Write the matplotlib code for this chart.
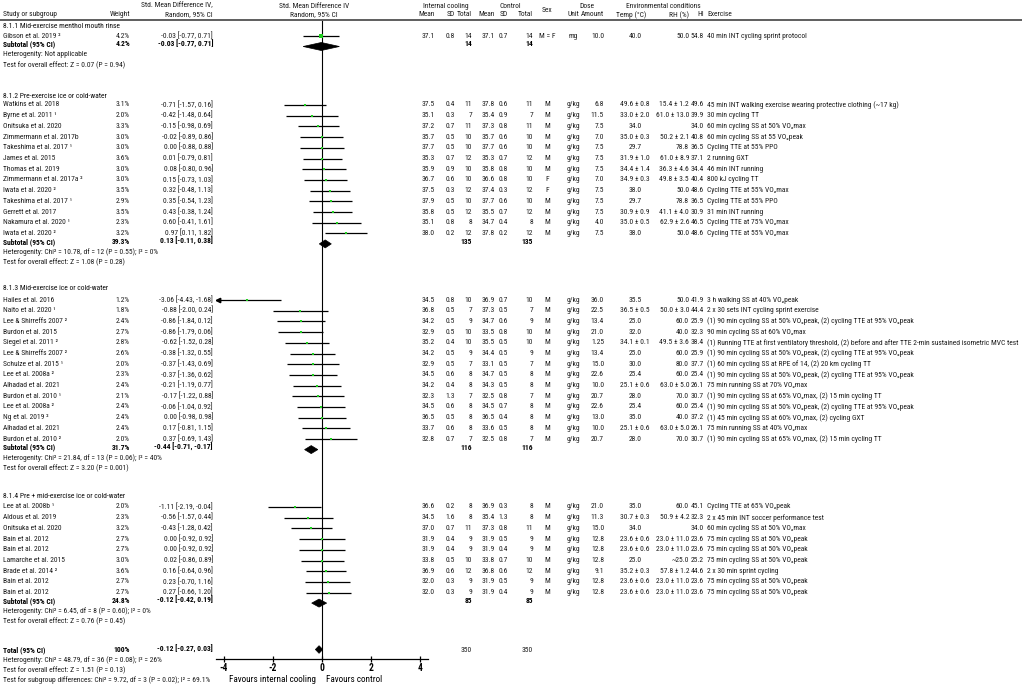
import matplotlib
matplotlib.use("Agg")
import matplotlib.pyplot as plt
from matplotlib import font_manager as fm
from matplotlib.patches import Polygon

plt.rcParams['axes.unicode_minus'] = False

# ---------------- DATA ----------------
group_titles = ["8.1.1 Mid-exercise menthol mouth rinse",
                "8.1.2 Pre-exercise ice or cold-water",
                "8.1.3 Mid-exercise ice or cold-water",
                "8.1.4 Pre + mid-exercise ice or cold-water"]

study_group = [0] + [1] * 13 + [2] * 14 + [3] * 9

study = ["Gibson et al. 2019 ²",
         "Watkins et al. 2018", "Byrne et al. 2011 ¹", "Onitsuka et al. 2020", "Zimmermann et al. 2017b",
         "Takeshima et al. 2017 ¹", "James et al. 2015", "Thomas et al. 2019", "Zimmermann et al. 2017a ²",
         "Iwata et al. 2020 ²", "Takeshima et al. 2017 ¹", "Gerrett et al. 2017", "Nakamura et al. 2020 ¹",
         "Iwata et al. 2020 ²",
         "Hailes et al. 2016", "Naito et al. 2020 ¹", "Lee & Shirreffs 2007 ²", "Burdon et al. 2015",
         "Siegel et al. 2011 ²", "Lee & Shirreffs 2007 ²", "Schulze et al. 2015 ¹", "Lee et al. 2008a ²",
         "Alhadad et al. 2021", "Burdon et al. 2010 ¹", "Lee et al. 2008a ²", "Ng et al. 2019 ²",
         "Alhadad et al. 2021", "Burdon et al. 2010 ²",
         "Lee at al. 2008b ¹", "Aldous et al. 2019", "Onitsuka et al. 2020", "Bain et al. 2012",
         "Bain et al. 2012", "Lamarche et al. 2015", "Brade et al. 2014 ²", "Bain et al. 2012",
         "Bain et al. 2012"]

weight = [4.2,
          3.1, 2.0, 3.3, 3.0, 3.0, 3.6, 3.0, 3.0, 3.5, 2.9, 3.5, 2.3, 3.2,
          1.2, 1.8, 2.4, 2.7, 2.8, 2.6, 2.0, 2.3, 2.4, 2.1, 2.4, 2.4, 2.4, 2.0,
          2.0, 2.3, 3.2, 2.7, 2.7, 3.0, 3.6, 2.7, 2.7]

smd = [-0.03,
       -0.71, -0.42, -0.15, -0.02, 0.00, 0.01, 0.08, 0.15, 0.32, 0.35, 0.43, 0.60, 0.97,
       -3.06, -0.88, -0.86, -0.86, -0.62, -0.38, -0.37, -0.37, -0.21, -0.17, -0.06, 0.00, 0.17, 0.37,
       -1.11, -0.56, -0.43, 0.00, 0.00, 0.02, 0.16, 0.23, 0.27]
ci_lo = [-0.77,
         -1.57, -1.48, -0.98, -0.89, -0.88, -0.79, -0.80, -0.73, -0.48, -0.54, -0.38, -0.41, 0.11,
         -4.43, -2.00, -1.84, -1.79, -1.52, -1.32, -1.43, -1.36, -1.19, -1.22, -1.04, -0.98, -0.81, -0.69,
         -2.19, -1.57, -1.28, -0.92, -0.92, -0.86, -0.64, -0.70, -0.66]
ci_hi = [0.71,
         0.16, 0.64, 0.69, 0.86, 0.88, 0.81, 0.96, 1.03, 1.13, 1.23, 1.24, 1.61, 1.82,
         -1.68, 0.24, 0.12, 0.06, 0.28, 0.55, 0.69, 0.62, 0.77, 0.88, 0.92, 0.98, 1.15, 1.43,
         -0.04, 0.44, 0.42, 0.92, 0.92, 0.89, 0.96, 1.16, 1.20]

int_mean = [37.1,
            37.5, 35.1, 37.2, 35.7, 37.7, 35.3, 35.9, 36.7, 37.5, 37.9, 35.8, 35.1, 38.0,
            34.5, 36.8, 34.2, 32.9, 35.2, 34.2, 32.9, 34.5, 34.2, 32.3, 34.5, 36.5, 33.7, 32.8,
            36.6, 34.5, 37.0, 31.9, 31.9, 33.8, 36.9, 32.0, 32.0]
int_sd = [0.8,
          0.4, 0.3, 0.7, 0.5, 0.5, 0.7, 0.9, 0.6, 0.3, 0.5, 0.5, 0.8, 0.2,
          0.8, 0.5, 0.5, 0.5, 0.4, 0.5, 0.5, 0.6, 0.4, 1.3, 0.6, 0.5, 0.6, 0.7,
          0.2, 1.6, 0.7, 0.4, 0.4, 0.5, 0.6, 0.3, 0.3]
int_n = [14,
         11, 7, 11, 10, 10, 12, 10, 10, 12, 10, 12, 8, 12,
         10, 7, 9, 10, 10, 9, 7, 8, 8, 7, 8, 8, 8, 7,
         8, 8, 11, 9, 9, 10, 12, 9, 9]
ctl_mean = [37.1,
            37.8, 35.4, 37.3, 35.7, 37.7, 35.3, 35.8, 36.6, 37.4, 37.7, 35.5, 34.7, 37.8,
            36.9, 37.3, 34.7, 33.5, 35.5, 34.4, 33.1, 34.7, 34.3, 32.5, 34.5, 36.5, 33.6, 32.5,
            36.9, 35.4, 37.3, 31.9, 31.9, 33.8, 36.8, 31.9, 31.9]
ctl_sd = [0.7,
          0.6, 0.9, 0.8, 0.6, 0.6, 0.7, 0.8, 0.8, 0.3, 0.6, 0.7, 0.4, 0.2,
          0.7, 0.5, 0.6, 0.8, 0.5, 0.5, 0.5, 0.5, 0.5, 0.8, 0.7, 0.4, 0.5, 0.8,
          0.3, 1.3, 0.8, 0.5, 0.4, 0.7, 0.6, 0.5, 0.4]
ctl_n = [14,
         11, 7, 11, 10, 10, 12, 10, 10, 12, 10, 12, 8, 12,
         10, 7, 9, 10, 10, 9, 7, 8, 8, 7, 8, 8, 8, 7,
         8, 8, 11, 9, 9, 10, 12, 9, 9]

sex = ["M = F"] + ["M"] * 7 + ["F", "F"] + ["M"] * 4 + ["M"] * 14 + ["M"] * 9
dose_unit = ["mg"] + ["g/kg"] * 36
dose_amount = ["10.0",
               "6.8", "11.5", "7.5", "7.0", "7.5", "7.5", "7.5", "7.0", "7.5", "7.5", "7.5", "4.0", "7.5",
               "36.0", "22.5", "13.4", "21.0", "1.25", "13.4", "15.0", "22.6", "10.0", "20.7", "22.6", "13.0",
               "10.0", "20.7",
               "21.0", "11.3", "15.0", "12.8", "12.8", "12.8", "9.1", "12.8", "12.8"]
temp = ["40.0",
        "49.6 ± 0.8", "33.0 ± 2.0", "34.0", "35.0 ± 0.3", "29.7", "31.9 ± 1.0", "34.4 ± 1.4", "34.9 ± 0.3",
        "38.0", "29.7", "30.9 ± 0.9", "35.0 ± 0.5", "38.0",
        "35.5", "36.5 ± 0.5", "25.0", "32.0", "34.1 ± 0.1", "25.0", "30.0", "25.4", "25.1 ± 0.6", "28.0",
        "25.4", "35.0", "25.1 ± 0.6", "28.0",
        "35.0", "30.7 ± 0.3", "34.0", "23.6 ± 0.6", "23.6 ± 0.6", "25.0", "35.2 ± 0.3", "23.6 ± 0.6",
        "23.6 ± 0.6"]
rh = ["50.0",
      "15.4 ± 1.2", "61.0 ± 13.0", "", "50.2 ± 2.1", "78.8", "61.0 ± 8.9", "36.3 ± 4.6", "49.8 ± 3.5",
      "50.0", "78.8", "41.1 ± 4.0", "62.9 ± 2.6", "50.0",
      "50.0", "50.0 ± 3.0", "60.0", "40.0", "49.5 ± 3.6", "60.0", "80.0", "60.0", "63.0 ± 5.0", "70.0",
      "60.0", "40.0", "63.0 ± 5.0", "70.0",
      "60.0", "50.9 ± 4.2", "", "23.0 ± 11.0", "23.0 ± 11.0", "~25.0", "57.8 ± 1.2", "23.0 ± 11.0",
      "23.0 ± 11.0"]
heat_index = [54.8,
              49.6, 39.9, 34.0, 40.8, 36.5, 37.1, 34.4, 40.4, 48.6, 36.5, 30.9, 46.5, 48.6,
              41.9, 44.4, 25.9, 32.3, 38.4, 25.9, 37.7, 25.4, 26.1, 30.7, 25.4, 37.2, 26.1, 30.7,
              45.1, 32.3, 34.0, 23.6, 23.6, 25.2, 44.6, 23.6, 23.6]
exercise = ["40 min INT cycling sprint protocol",
            "45 min INT walking exercise wearing protective clothing (~17 kg)",
            "30 min cycling TT",
            "60 min cycling SS at 50% VO₂max",
            "60 min cycling SS at 55 VO₂peak",
            "Cycling TTE at 55% PPO",
            "2 running GXT",
            "46 min INT running",
            "800 kJ cycling TT",
            "Cycling TTE at 55% VO₂max",
            "Cycling TTE at 55% PPO",
            "31 min INT running",
            "Cycling TTE at 75% VO₂max",
            "Cycling TTE at 55% VO₂max",
            "3 h walking SS at 40% VO₂peak",
            "2 x 30 sets INT cycling sprint exercise",
            "(1) 90 min cycling SS at 50% VO₂peak, (2) cycling TTE at 95% VO₂peak",
            "90 min cycling SS at 60% VO₂max",
            "(1) Running TTE at first ventilatory threshold, (2) before and after TTE 2-min sustained isometric MVC test",
            "(1) 90 min cycling SS at 50% VO₂peak, (2) cycling TTE at 95% VO₂peak",
            "(1) 60 min cycling SS at RPE of 14, (2) 20 km cycling TT",
            "(1) 90 min cycling SS at 50% VO₂peak, (2) cycling TTE at 95% VO₂peak",
            "75 min running SS at 70% VO₂max",
            "(1) 90 min cycling SS at 65% VO₂max, (2) 15 min cycling TT",
            "(1) 90 min cycling SS at 50% VO₂peak, (2) cycling TTE at 95% VO₂peak",
            "(1) 45 min cycling SS at 60% VO₂max, (2) cycling GXT",
            "75 min running SS at 40% VO₂max",
            "(1) 90 min cycling SS at 65% VO₂max, (2) 15 min cycling TT",
            "Cycling TTE at 65% VO₂peak",
            "2 x 45 min INT soccer performance test",
            "60 min cycling SS at 50% VO₂max",
            "75 min cycling SS at 50% VO₂peak",
            "75 min cycling SS at 50% VO₂peak",
            "75 min cycling SS at 50% VO₂peak",
            "2 x 30 min sprint cycling",
            "75 min cycling SS at 50% VO₂peak",
            "75 min cycling SS at 50% VO₂peak"]

sub_weight = [4.2, 39.3, 31.7, 24.8]
sub_smd = [-0.03, 0.13, -0.44, -0.12]
sub_lo = [-0.77, -0.11, -0.71, -0.42]
sub_hi = [0.71, 0.38, -0.17, 0.19]
sub_n_int = [14, 135, 116, 85]
sub_n_ctl = [14, 135, 116, 85]
sub_het = ["Heterogenity: Not applicable",
           "Heterogenity: Chi² = 10.78, df = 12 (P = 0.55); I² = 0%",
           "Heterogenity: Chi² = 21.84, df = 13 (P = 0.06); I² = 40%",
           "Heterogenity: Chi² = 6.45, df = 8 (P = 0.60); I² = 0%"]
sub_z = ["Test for overall effect: Z = 0.07 (P = 0.94)",
         "Test for overall effect: Z = 1.08 (P = 0.28)",
         "Test for overall effect: Z = 3.20 (P = 0.001)",
         "Test for overall effect: Z = 0.76 (P = 0.45)"]

total_smd, total_lo, total_hi = -0.12, -0.27, 0.03
total_n_int, total_n_ctl = 350, 350
total_notes = ["Heterogenity: Chi² = 48.79, df = 36 (P = 0.08); I² = 26%",
               "Test for overall effect: Z = 1.51 (P = 0.13)",
               "Test for subgroup differences: Chi² = 9.72, df = 3 (P = 0.02); I² = 69.1%"]

x_ticks = [-4, -2, 0, 2, 4]
x_label_left = "Favours internal cooling"
x_label_right = "Favours control"

# ---------------- FONTS (prefer a narrow face, like the reference) ----------------
entries = fm.fontManager.ttflist
MAIN, STRETCH = None, "normal"
for nm in ["Liberation Sans Narrow", "Arial Narrow", "Roboto Condensed",
           "DejaVu Sans Condensed", "Open Sans Condensed", "Noto Sans Condensed"]:
    if any(f.name == nm and f.style == "normal" for f in entries):
        MAIN = nm
        break
if MAIN is None:
    for nm in ["DejaVu Sans", "Noto Sans", "Roboto", "Open Sans", "Liberation Sans"]:
        c = [f for f in entries if f.name == nm and f.style == "normal"
             and str(f.stretch) in ("condensed", "semi-condensed", "extra-condensed")]
        if c:
            MAIN, STRETCH = nm, str(c[0].stretch)
            break
if MAIN is None:
    MAIN = "Liberation Sans"
FAM = [MAIN, "DejaVu Sans"]
TXT = "#1c1c1c"

# ---------------- LAYOUT ----------------
W, H = 1024, 688
fig = plt.figure(figsize=(W / 100, H / 100), dpi=100)
ax = fig.add_axes([0, 0, 1, 1])
ax.set_xlim(0, W)
ax.set_ylim(H, 0)
ax.axis("off")
renderer = fig.canvas.get_renderer()

def measure(s, size):
    tt = ax.text(0, 0, s, fontsize=size, family=FAM, fontstretch=STRETCH)
    w = tt.get_window_extent(renderer).width
    tt.remove()
    return w

# calibrate font sizes so text widths match the reference
FS = 6.0 * 311.0 / measure(exercise[18], 6.0)
FS_AX = 7.0 * 87.0 / measure(x_label_left, 7.0)

X0, PXU = 322.0, 24.5
XLIM = (-4.33, 4.33)
fx_left = X0 + XLIM[0] * PXU
fx_w = (XLIM[1] - XLIM[0]) * PXU
axf = fig.add_axes([fx_left / W, 0, fx_w / W, 1])
axf.set_xlim(*XLIM)
axf.set_ylim(H, 0)
axf.axis("off")

AXIS_Y = 659.3

def t(x, y, s, ha="left", bold=False, color=TXT, size=None, va="center"):
    ax.text(x, y, s, ha=ha, va=va, fontsize=FS if size is None else size, family=FAM,
            fontstretch=STRETCH, fontweight="bold" if bold else "normal", color=color)

# column anchors (pixels)
C_STUDY = 3
C_WEIGHT = 130
C_CI = 213
C_IM, C_ISD, C_IN = 435, 455, 472
C_CM, C_CSD, C_CN = 495, 508, 533
C_SEX, C_UNIT, C_AMT = 547, 573, 604
C_TEMP, C_RH, C_HI, C_EX = 635, 689, 704, 707

# header
HY1, HY2 = 6, 15
t(C_STUDY, HY2, "Study or subgroup")
t(C_WEIGHT, HY2, "Weight", ha="right")
t(C_CI, HY1, "Std. Mean Difference IV,", ha="right")
t(C_CI, HY2, "Random, 95% CI", ha="right")
t(X0 - 8, HY1, "Std. Mean Difference IV", ha="center")
t(X0 - 8, HY2, "Random, 95% CI", ha="center")
t(446, HY1, "Internal cooling", ha="center")
t(510, HY1, "Control", ha="center")
for xr, s in [(C_IM, "Mean"), (C_ISD, "SD"), (C_IN, "Total"),
              (C_CM, "Mean"), (C_CSD, "SD"), (C_CN, "Total")]:
    t(xr, HY2, s, ha="right")
t(C_SEX, 10, "Sex", ha="center")
t(587, HY1, "Dose", ha="center")
t(C_UNIT, HY2, "Unit", ha="center")
t(C_AMT, HY2, "Amount", ha="right")
t(663, HY1, "Environmental conditions", ha="center")
t(631, HY2, "Temp (°C)", ha="center")
t(C_RH, HY2, "RH (%)", ha="right")
t(C_HI, HY2, "HI", ha="right")
t(C_EX, HY2, "Exercise")
ax.plot([0, 1022], [20, 20], color="#333333", lw=1.1, solid_capstyle="butt")

# zero line
axf.plot([0, 0], [21, AXIS_Y], color="black", lw=0.8)

heading_y = [26, 96, 288, 496]
first_y = [36, 105, 300, 507]
STEP = 10.7
GREEN = "#1fd01f"

def diamond(est, lo, hi, y, h=4.0):
    axf.add_patch(Polygon([(lo, y), (est, y - h), (hi, y), (est, y + h)],
                          closed=True, facecolor="black", edgecolor="black", lw=0.5))

idx_by_group = {g: [i for i, gg in enumerate(study_group) if gg == g] for g in range(4)}

for g in range(4):
    t(C_STUDY, heading_y[g], group_titles[g], color="#0d0d0d")
    ids = idx_by_group[g]
    y = first_y[g]
    for k, i in enumerate(ids):
        y = first_y[g] + k * STEP
        t(C_STUDY, y, study[i])
        t(C_WEIGHT, y, f"{weight[i]:.1f}%", ha="right")
        t(C_CI, y, f"{smd[i]:.2f} [{ci_lo[i]:.2f}, {ci_hi[i]:.2f}]", ha="right")
        t(C_IM, y, f"{int_mean[i]:.1f}", ha="right")
        t(C_ISD, y, f"{int_sd[i]:.1f}", ha="right")
        t(C_IN, y, f"{int_n[i]}", ha="right")
        t(C_CM, y, f"{ctl_mean[i]:.1f}", ha="right")
        t(C_CSD, y, f"{ctl_sd[i]:.1f}", ha="right")
        t(C_CN, y, f"{ctl_n[i]}", ha="right")
        t(C_SEX, y, sex[i], ha="center")
        t(C_UNIT, y, dose_unit[i], ha="center")
        t(C_AMT, y, dose_amount[i], ha="right")
        t(C_TEMP, y, temp[i], ha="center")
        if rh[i]:
            t(C_RH, y, rh[i], ha="right")
        t(C_HI, y, f"{heat_index[i]:.1f}", ha="right")
        t(C_EX, y, exercise[i])
        # forest
        lo = max(ci_lo[i], XLIM[0] + 0.02)
        axf.plot([lo, ci_hi[i]], [y, y], color="black", lw=0.9, solid_capstyle="butt")
        if ci_lo[i] < XLIM[0]:
            axf.plot([XLIM[0] + 0.07], [y], marker="<", color="black", ms=3.2)
        axf.plot([smd[i]], [y], marker="s", color=GREEN, ms=1.3 + 0.22 * weight[i], mew=0)
    last = y
    ys = last + 8.5
    t(C_STUDY, ys, "Subtotal (95% CI)", bold=True, color="black")
    t(C_WEIGHT, ys, f"{sub_weight[g]:.1f}%", ha="right", bold=True, color="black")
    t(C_CI, ys, f"{sub_smd[g]:.2f} [{sub_lo[g]:.2f}, {sub_hi[g]:.2f}]", ha="right", bold=True, color="black")
    t(C_IN, ys, f"{sub_n_int[g]}", ha="right", bold=True, color="black")
    t(C_CN, ys, f"{sub_n_ctl[g]}", ha="right", bold=True, color="black")
    diamond(sub_smd[g], sub_lo[g], sub_hi[g], last + 10.5)
    t(C_STUDY, ys + 10.3, sub_het[g])
    t(C_STUDY, ys + 20.8, sub_z[g])

# total
TY = 650
t(C_STUDY, TY, "Total (95% CI)", bold=True, color="black")
t(C_WEIGHT, TY, "100%", ha="right", bold=True, color="black")
t(C_CI, TY, f"{total_smd:.2f} [{total_lo:.2f}, {total_hi:.2f}]", ha="right", bold=True, color="black")
t(C_IN, TY, f"{total_n_int}", ha="right")
t(C_CN, TY, f"{total_n_ctl}", ha="right")
diamond(total_smd, total_lo, total_hi, TY - 0.5, h=3.8)
for k, s in enumerate(total_notes):
    t(C_STUDY, TY + 10 + k * 10.1, s)

# bottom x axis
axx = fig.add_axes([fx_left / W, (H - AXIS_Y) / H, fx_w / W, 1e-4])
axx.set_xlim(*XLIM)
axx.set_yticks([])
for sp in ["left", "right", "top"]:
    axx.spines[sp].set_visible(False)
axx.spines["bottom"].set_linewidth(0.9)
axx.patch.set_alpha(0)
axx.set_xticks(x_ticks)
axx.set_xticklabels([str(v) for v in x_ticks])
axx.tick_params(axis="x", direction="inout", length=5, width=0.9, pad=0.5,
                labelsize=FS_AX * 1.05, labelcolor="black")
for lab in axx.get_xticklabels():
    lab.set_family(FAM)
    lab.set_fontstretch(STRETCH)
    lab.set_fontweight("bold")
t(X0 - 6, 679, x_label_left, ha="right", size=FS_AX, color="black")
t(X0 + 4, 679, x_label_right, ha="left", size=FS_AX, color="black")

fig.savefig("out.png", dpi=100)
